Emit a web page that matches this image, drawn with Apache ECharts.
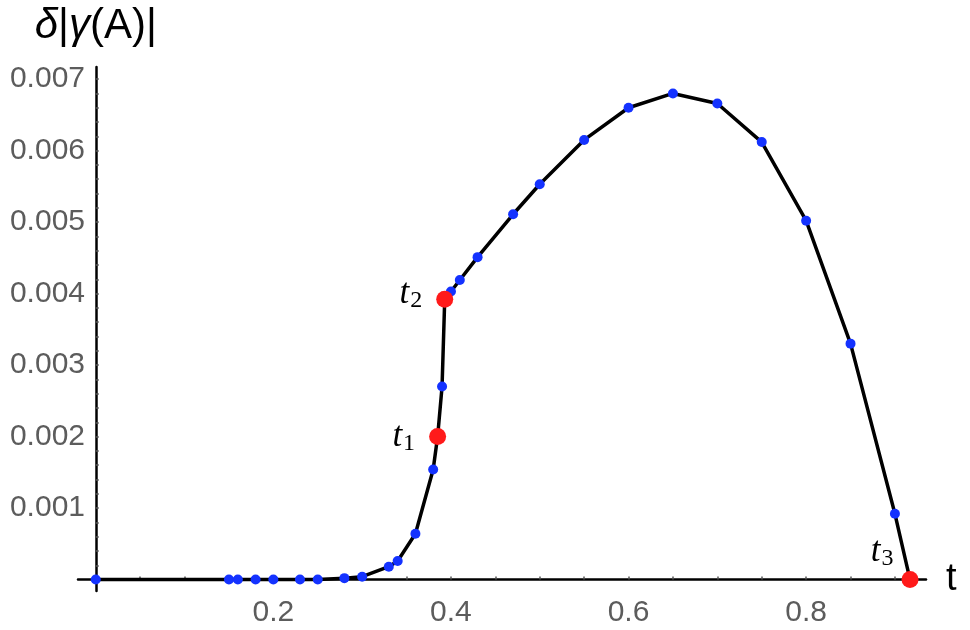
<!DOCTYPE html>
<html>
<head>
<meta charset="utf-8">
<script src="https://cdn.jsdelivr.net/npm/echarts@6/dist/echarts.min.js"></script>
<style>
html, body { margin: 0; padding: 0; background: #fff; }
#chart { width: 970px; height: 630px; }
</style>
</head>
<body>
<div id="chart"></div>
<script>
// sample points (blue)
const tValues = [0, 0.15, 0.16, 0.18, 0.20, 0.23, 0.25, 0.28, 0.30, 0.33, 0.34, 0.36, 0.38, 0.39,
    0.40, 0.41, 0.43, 0.47, 0.50, 0.55, 0.60, 0.65, 0.70, 0.75, 0.80, 0.85, 0.90];
const deltaValues = [0, 0, 0, 0, 0, 0, 0, 0.00002, 0.00004, 0.00018, 0.00026, 0.00064, 0.00154, 0.0027,
    0.00403, 0.00419, 0.00451, 0.00511, 0.00553, 0.00615, 0.0066, 0.0068, 0.00666, 0.00612, 0.00502, 0.0033, 0.00092];

// marked points (red)
const markNames = ['1', '2', '3'];
const markT = [0.385, 0.393, 0.917];
const markDelta = [0.002, 0.00392, 0];

// ticks / labels
const xTickValues = [0.05, 0.1, 0.15, 0.2, 0.25, 0.3, 0.35, 0.4, 0.45, 0.5, 0.55, 0.6, 0.65, 0.7, 0.75, 0.8, 0.85, 0.9];
const xLabelValues = [0.2, 0.4, 0.6, 0.8];
const yTickValues = [0.0002, 0.0004, 0.0006, 0.0008, 0.001, 0.0012, 0.0014, 0.0016, 0.0018, 0.002,
    0.0022, 0.0024, 0.0026, 0.0028, 0.003, 0.0032, 0.0034, 0.0036, 0.0038, 0.004,
    0.0042, 0.0044, 0.0046, 0.0048, 0.005, 0.0052, 0.0054, 0.0056, 0.0058, 0.006,
    0.0062, 0.0064, 0.0066, 0.0068, 0.007];
const yLabelValues = [0.001, 0.002, 0.003, 0.004, 0.005, 0.006, 0.007];

const bluePoints = tValues.map((t, i) => [t, deltaValues[i]]);
const redPoints = markT.map((t, i) => [t, markDelta[i]]);
const linePoints = bluePoints.concat(redPoints).sort((a, b) => a[0] - b[0]);

const labelOffsets = [[-4, 0], [-4, -6], [2, -28]];

const chart = echarts.init(document.getElementById('chart'));
const option = {
    animation: false,
    grid: { left: 78, right: 44, top: 67, bottom: 39, containLabel: false, outerBoundsMode: 'none' },
    xAxis: {
        type: 'value',
        min: -0.02,
        max: 0.935,
        name: 't',
        nameLocation: 'end',
        nameGap: 20,
        nameTextStyle: { color: '#000', fontSize: 38, fontFamily: 'Liberation Sans' },
        splitLine: { show: false },
        axisLine: { onZero: true, lineStyle: { color: '#000', width: 2.5 } },
        axisTick: { inside: true, length: 3, customValues: xTickValues, lineStyle: { color: '#555', width: 1.5 } },
        axisLabel: {
            customValues: xLabelValues,
            margin: 7,
            color: '#5c5c5c',
            fontSize: 30,
            fontFamily: 'Liberation Sans',
            formatter: v => v.toFixed(1)
        }
    },
    yAxis: {
        type: 'value',
        min: -0.00016,
        max: 0.00717,
        name: '{i|δ}|{i|γ}(A)|',
        nameLocation: 'end',
        nameGap: 20,
        nameTextStyle: {
            color: '#000', fontSize: 42, fontFamily: 'Liberation Sans', align: 'center',
            rich: { i: { fontStyle: 'italic', fontSize: 42, fontFamily: 'Liberation Sans', color: '#000' } }
        },
        splitLine: { show: false },
        axisLine: { onZero: true, lineStyle: { color: '#000', width: 2.5 } },
        axisTick: { inside: true, length: 3, customValues: yTickValues, lineStyle: { color: '#555', width: 1.5 } },
        axisLabel: {
            customValues: yLabelValues,
            margin: -7,
            color: '#5c5c5c',
            fontSize: 30,
            fontFamily: 'Liberation Sans',
            formatter: v => v.toFixed(3)
        }
    },
    series: [
        {
            type: 'line',
            data: linePoints,
            smooth: false,
            showSymbol: false,
            lineStyle: { color: '#000', width: 3.5, join: 'round' },
            z: 2
        },
        {
            type: 'scatter',
            data: bluePoints,
            symbolSize: 10,
            itemStyle: { color: '#1432ff', opacity: 1 },
            z: 3
        },
        {
            type: 'scatter',
            data: redPoints.map((p, i) => ({
                value: p,
                name: markNames[i],
                label: { offset: labelOffsets[i] }
            })),
            symbolSize: 17,
            itemStyle: { color: '#ff1a1a', opacity: 1 },
            label: {
                show: true,
                position: 'left',
                distance: 10,
                formatter: p => '{t|t}{s|' + p.name + '}',
                rich: {
                    t: { fontSize: 35, fontStyle: 'italic', fontFamily: 'Liberation Serif', color: '#000' },
                    s: { fontSize: 24, fontFamily: 'Liberation Serif', color: '#000', verticalAlign: 'bottom', padding: [14, 0, 0, 1] }
                }
            },
            z: 4
        }
    ]
};
chart.setOption(option);
</script>
</body>
</html>
